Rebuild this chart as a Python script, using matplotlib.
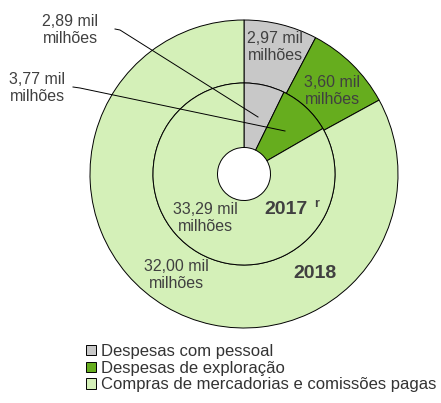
import matplotlib.pyplot as plt

categories = ["Despesas com pessoal", "Despesas de exploração",
              "Compras de mercadorias e comissões pagas"]
values_2018 = [2.97, 3.60, 32.00]
values_2017 = [2.89, 3.77, 33.29]
colors = ["#c8c8c8", "#66ad1e", "#d4f0b8"]

plt.rcParams['font.family'] = ['Liberation Sans', 'DejaVu Sans']
txt = "#404040"

fig = plt.figure(figsize=(4.41, 4.03), dpi=100)
ax = fig.add_axes([0, 0, 1, 1])

cx, cy = 244, 403 - 174
wp = dict(edgecolor='black', linewidth=0.7)

outer, _ = ax.pie(values_2018, radius=154, center=(cx, cy), colors=colors,
                  startangle=90, counterclock=False,
                  wedgeprops=dict(width=63, **wp), frame=True)
inner, _ = ax.pie(values_2017, radius=91, center=(cx, cy), colors=colors,
                  startangle=90, counterclock=False,
                  wedgeprops=dict(width=64.5, **wp), frame=True)
ax.set_xlim(0, 441)
ax.set_ylim(0, 403)
ax.set_aspect('equal')
ax.axis('off')


def lab(x, y, s):
    ax.text(x, 403 - y, s, ha='center', va='center', fontsize=11.5,
            color=txt, linespacing=1.15)


lab(70, 30, "2,89 mil\nmilhões")
lab(37, 88, "3,77 mil\nmilhões")
lab(275, 47, "2,97 mil\nmilhões")
lab(332, 91, "3,60 mil\nmilhões")
lab(205, 218, "33,29 mil\nmilhões")
lab(176, 275, "32,00 mil\nmilhões")

ax.text(286, 403 - 209, "2017", ha='center', va='center', fontsize=14,
        fontweight='bold', color=txt)
ax.text(317, 403 - 204, "r", ha='center', va='center', fontsize=9,
        fontweight='bold', color=txt)
ax.text(315, 403 - 273, "2018", ha='center', va='center', fontsize=14,
        fontweight='bold', color=txt)

# leader lines
ax.plot([115, 120, 258], [403 - 29, 403 - 30, 403 - 117], color='black', lw=0.7)
ax.plot([73, 80, 285], [403 - 87, 403 - 88, 403 - 131], color='black', lw=0.7)

leg = ax.legend(outer, categories, loc='upper left',
                bbox_to_anchor=(86 / 441, 1 - 344 / 403), frameon=False,
                fontsize=12, handlelength=0.6, handleheight=0.6,
                handletextpad=0.3, labelspacing=0.1, borderpad=0,
                borderaxespad=0)
for t in leg.get_texts():
    t.set_color("#333333")

fig.savefig("out.png", dpi=100)
